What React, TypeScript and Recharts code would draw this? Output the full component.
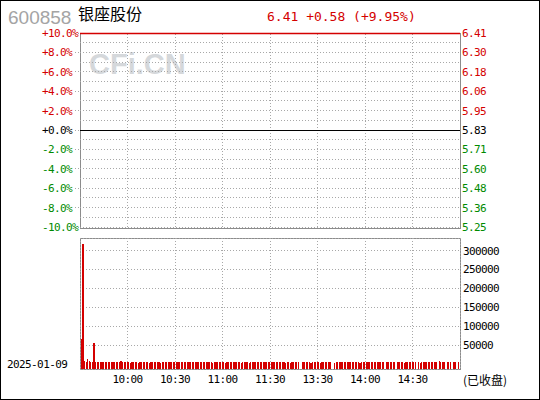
import { ComposedChart, Line, Bar, XAxis, YAxis, CartesianGrid, ReferenceLine } from 'recharts'

const stockCode = '600858'
const stockName = '银座股份'
const tradeDate = '2025-01-09'
const sessionNote = '(已收盘)'
const prevClose = 5.83
const lastPrice = 6.41

// percent scale (left) and matching price labels (right)
const pctTicks = [10, 8, 6, 4, 2, 0, -2, -4, -6, -8, -10]
const pctLabels = ['+10.0%', '+8.0%', '+6.0%', '+4.0%', '+2.0%', '+0.0%', '-2.0%', '-4.0%', '-6.0%', '-8.0%', '-10.0%']
const priceLabels = ['6.41', '6.30', '6.18', '6.06', '5.95', '5.83', '5.71', '5.60', '5.48', '5.36', '5.25']
const pctGridLines = [-10, -9, -8, -7, -6, -5, -4, -3, -2, -1, 1, 2, 3, 4, 5, 6, 7, 8, 9]

// minutes since 9:30 (lunch break collapsed)
const timeTicks = [30, 60, 90, 120, 150, 180, 210]
const timeLabels = ['10:00', '10:30', '11:00', '11:30', '13:30', '14:00', '14:30']
const volumeTicks = [50000, 100000, 150000, 200000, 250000, 300000]

const prices = [
  6.41, 6.41, 6.41, 6.41, 6.41, 6.41, 6.41, 6.41, 6.41, 6.41, 6.41, 6.41, 6.41, 6.41, 6.41, 6.41, 6.41, 6.41, 6.41, 6.41, 6.41, 6.41, 6.41, 6.41, 6.41, 6.41, 6.41, 6.41, 6.41, 6.41,
  6.41, 6.41, 6.41, 6.41, 6.41, 6.41, 6.41, 6.41, 6.41, 6.41, 6.41, 6.41, 6.41, 6.41, 6.41, 6.41, 6.41, 6.41, 6.41, 6.41, 6.41, 6.41, 6.41, 6.41, 6.41, 6.41, 6.41, 6.41, 6.41, 6.41,
  6.41, 6.41, 6.41, 6.41, 6.41, 6.41, 6.41, 6.41, 6.41, 6.41, 6.41, 6.41, 6.41, 6.41, 6.41, 6.41, 6.41, 6.41, 6.41, 6.41, 6.41, 6.41, 6.41, 6.41, 6.41, 6.41, 6.41, 6.41, 6.41, 6.41,
  6.41, 6.41, 6.41, 6.41, 6.41, 6.41, 6.41, 6.41, 6.41, 6.41, 6.41, 6.41, 6.41, 6.41, 6.41, 6.41, 6.41, 6.41, 6.41, 6.41, 6.41, 6.41, 6.41, 6.41, 6.41, 6.41, 6.41, 6.41, 6.41, 6.41,
  6.41, 6.41, 6.41, 6.41, 6.41, 6.41, 6.41, 6.41, 6.41, 6.41, 6.41, 6.41, 6.41, 6.41, 6.41, 6.41, 6.41, 6.41, 6.41, 6.41, 6.41, 6.41, 6.41, 6.41, 6.41, 6.41, 6.41, 6.41, 6.41, 6.41,
  6.41, 6.41, 6.41, 6.41, 6.41, 6.41, 6.41, 6.41, 6.41, 6.41, 6.41, 6.41, 6.41, 6.41, 6.41, 6.41, 6.41, 6.41, 6.41, 6.41, 6.41, 6.41, 6.41, 6.41, 6.41, 6.41, 6.41, 6.41, 6.41, 6.41,
  6.41, 6.41, 6.41, 6.41, 6.41, 6.41, 6.41, 6.41, 6.41, 6.41, 6.41, 6.41, 6.41, 6.41, 6.41, 6.41, 6.41, 6.41, 6.41, 6.41, 6.41, 6.41, 6.41, 6.41, 6.41, 6.41, 6.41, 6.41, 6.41, 6.41,
  6.41, 6.41, 6.41, 6.41, 6.41, 6.41, 6.41, 6.41, 6.41, 6.41, 6.41, 6.41, 6.41, 6.41, 6.41, 6.41, 6.41, 6.41, 6.41, 6.41, 6.41, 6.41, 6.41, 6.41, 6.41, 6.41, 6.41, 6.41, 6.41, 6.41,
  6.41,
]

const volumes = [
  0, 67000, 318000, 8000, 4000, 13000, 8700, 5300, 4000, 55000, 5300, 4000, 5300, 5300, 5300, 4000, 4000, 4000, 4000, 4000, 4000, 4000, 4000, 4000, 4000, 4000, 8000, 4000, 4000, 4000,
  4000, 4000, 3500, 4000, 4000, 4000, 4000, 3500, 4000, 4000, 4000, 4000, 4000, 4000, 3500, 4000, 4000, 4000, 4000, 4000, 4000, 3500, 4000, 4000, 4000, 4000, 4000, 4000, 4000, 4000,
  4000, 4000, 4000, 4000, 4000, 4000, 4000, 4000, 4000, 4000, 4000, 4000, 4000, 4000, 4000, 4000, 4000, 4000, 4000, 4000, 4000, 4000, 4000, 4000, 2500, 4000, 4000, 4000, 4000, 4000,
  4000, 4000, 2500, 4000, 4000, 4000, 4000, 4000, 4000, 4000, 4000, 4000, 2500, 4000, 4000, 4000, 4000, 2500, 4000, 4000, 4000, 4000, 4000, 4000, 4000, 4000, 4000, 4000, 4000, 4000,
  4000, 5000, 4000, 4000, 4000, 4000, 4000, 4000, 4000, 4000, 2500, 4000, 4000, 2500, 4000, 4000, 4000, 4000, 4000, 0, 0, 4000, 4000, 4000, 4000, 4000, 2500, 4000, 4000, 5000,
  4000, 4000, 2500, 4000, 4000, 4000, 4000, 4000, 4000, 0, 0, 2500, 4000, 4000, 4000, 4000, 4000, 4000, 4000, 4000, 4000, 4000, 4000, 4000, 4000, 4000, 4000, 2500, 4000, 4000,
  4000, 4000, 4000, 4000, 4000, 4000, 4000, 4000, 4000, 4000, 4000, 4000, 4000, 0, 4000, 4000, 4000, 4000, 4000, 4000, 0, 4000, 4000, 4000, 4000, 2500, 4000, 4000, 4000, 4000,
  4000, 4000, 4000, 0, 4000, 2500, 4000, 4000, 4000, 4000, 4000, 4000, 4000, 4000, 5500, 4000, 0, 6500, 4000, 4000, 4000, 0, 4000, 4000, 4000, 0, 4000, 4000, 0, 4000,
  0,
]

const data = prices.map((price, t) => ({
  t,
  pct: (price / prevClose - 1) * 100,
  volume: volumes[t],
}))

const RED = '#d40000'
const GREEN = '#008a00'
const GRID = '#a8a8a8'
const FRAME = '#8c8c8c'
const MONO = '"DejaVu Sans Mono", monospace'
const CJK = '"Noto Sans CJK SC", sans-serif'

const signColor = (v: number) => (v > 0 ? RED : v < 0 ? GREEN : '#000')

const PctTick = (props: any) => {
  const { y, payload } = props
  const i = pctTicks.indexOf(payload.value)
  return (
    <text x={42} y={y} dy={4} fill={signColor(payload.value)} fontFamily={MONO} fontSize={11} letterSpacing={-0.6}>
      {pctLabels[i]}
    </text>
  )
}

const PriceTick = (props: any) => {
  const { x, y, payload } = props
  const i = pctTicks.indexOf(payload.value)
  return (
    <text x={x} y={y} dy={4} fill={signColor(payload.value)} fontFamily={MONO} fontSize={11} letterSpacing={-0.6}>
      {priceLabels[i]}
    </text>
  )
}

// volume bars: edges snapped to whole pixels, standing on the panel floor
const FloorBar = (props: any) => {
  const { x, y, width, height, fill, background } = props
  if (!height || height <= 0) return null
  const floor = background ? background.y + background.height : y + height
  const left = Math.round(x)
  const right = Math.max(left + 1, Math.round(x + width))
  const top = Math.round(y)
  return <rect x={left} y={top} width={right - left} height={Math.round(floor) - top} fill={fill} shapeRendering="crispEdges" />
}

export default function App() {
  const change = lastPrice - prevClose
  const changePct = (change / prevClose) * 100
  const quote = `${lastPrice.toFixed(2)} +${change.toFixed(2)} (+${changePct.toFixed(2)}%)`

  return (
    <div style={{ position: 'absolute', left: 0, top: 0, width: 540, height: 400, background: '#fff', overflow: 'hidden' }}>
      <style>{`.crisp line { shape-rendering: crispEdges; }`}</style>

      {/* watermark and panel frames, underneath the charts */}
      <svg width={540} height={400} style={{ position: 'absolute', left: 0, top: 0 }}>
        <text x={89} y={74} fill="#d5d8db" fontFamily="'Liberation Sans', Arial, sans-serif" fontWeight="bold" fontSize={29}>
          CFi.CN
        </text>
        <rect x={80.5} y={33.5} width={380} height={195} fill="none" stroke={FRAME} />
        <rect x={80.5} y={238.5} width={380} height={131} fill="none" stroke={FRAME} />
      </svg>

      <div className="crisp" style={{ position: 'absolute', left: 0, top: 0 }}>
        <ComposedChart width={540} height={240} data={data} margin={{ top: 33, right: 0, bottom: 13, left: 0 }}>
          <XAxis dataKey="t" type="number" domain={[0, 240]} hide />
          <YAxis
            yAxisId="pct"
            orientation="left"
            width={80}
            domain={[-10, 10]}
            ticks={pctTicks}
            interval={0}
            axisLine={false}
            tickSize={5}
            tickMargin={0}
            tickLine={{ stroke: GRID, strokeDasharray: '1 2' }}
            tick={(p: any) => <PctTick {...p} />}
          />
          <YAxis
            yAxisId="price"
            orientation="right"
            width={80}
            domain={[-10, 10]}
            ticks={pctTicks}
            interval={0}
            allowDataOverflow
            axisLine={false}
            tickLine={false}
            tickSize={0}
            tickMargin={2}
            tick={(p: any) => <PriceTick {...p} />}
          />
          {pctGridLines.map((p) => (
            <ReferenceLine key={`h${p}`} yAxisId="pct" y={p} stroke={GRID} strokeDasharray="1 2" />
          ))}
          {timeTicks.map((t) => (
            <ReferenceLine key={`v${t}`} yAxisId="pct" x={t} stroke={GRID} strokeDasharray="1 2" />
          ))}
          <ReferenceLine yAxisId="pct" y={0} stroke="#000" />
          <Line yAxisId="pct" dataKey="pct" stroke={RED} strokeWidth={1.5} dot={false} isAnimationActive={false} />
        </ComposedChart>
      </div>

      <div className="crisp" style={{ position: 'absolute', left: 0, top: 230 }}>
        <ComposedChart width={540} height={170} data={data} margin={{ top: 8, right: 0, bottom: 0, left: 80 }}>
          <CartesianGrid stroke={GRID} strokeDasharray="1 2" />
          <XAxis
            dataKey="t"
            type="number"
            domain={[0, 240]}
            ticks={timeTicks}
            interval={0}
            height={31}
            axisLine={false}
            tickLine={false}
            tickSize={0}
            tickMargin={6}
            tickFormatter={(v: number) => timeLabels[timeTicks.indexOf(v)]}
            tick={{ fill: '#000', fontSize: 11, fontFamily: MONO, letterSpacing: -0.6 }}
          />
          <YAxis
            orientation="right"
            width={80}
            domain={[-13500, 333700]}
            ticks={volumeTicks}
            interval={0}
            allowDataOverflow
            axisLine={false}
            tickLine={false}
            tickSize={0}
            tickMargin={3}
            tick={{ fill: '#000', fontSize: 11, fontFamily: MONO, letterSpacing: -0.6, textAnchor: 'start' }}
          />
          <Bar dataKey="volume" fill={RED} barSize={1.2} shape={FloorBar} isAnimationActive={false} />
        </ComposedChart>
      </div>

      <svg width={540} height={400} style={{ position: 'absolute', left: 0, top: 0, pointerEvents: 'none' }}>
        <rect x={0.5} y={0.5} width={539} height={399} fill="none" stroke="#000" />
        <text x={8} y={24} fill="#a4a4a4" fontFamily="'Liberation Sans', Arial, sans-serif" fontSize={19}>
          {stockCode}
        </text>
        <text x={78} y={20} fill="#000" fontFamily={CJK} fontSize={16}>
          {stockName}
        </text>
        <text x={267} y={20.5} fill={RED} fontFamily={MONO} fontSize={13}>
          {quote}
        </text>
        <text x={7} y={368} fill="#000" fontFamily={MONO} fontSize={11} letterSpacing={-0.6}>
          {tradeDate}
        </text>
        <text x={463} y={385} fill="#000" fontFamily={CJK} fontSize={12}>
          {sessionNote}
        </text>
      </svg>
    </div>
  )
}
